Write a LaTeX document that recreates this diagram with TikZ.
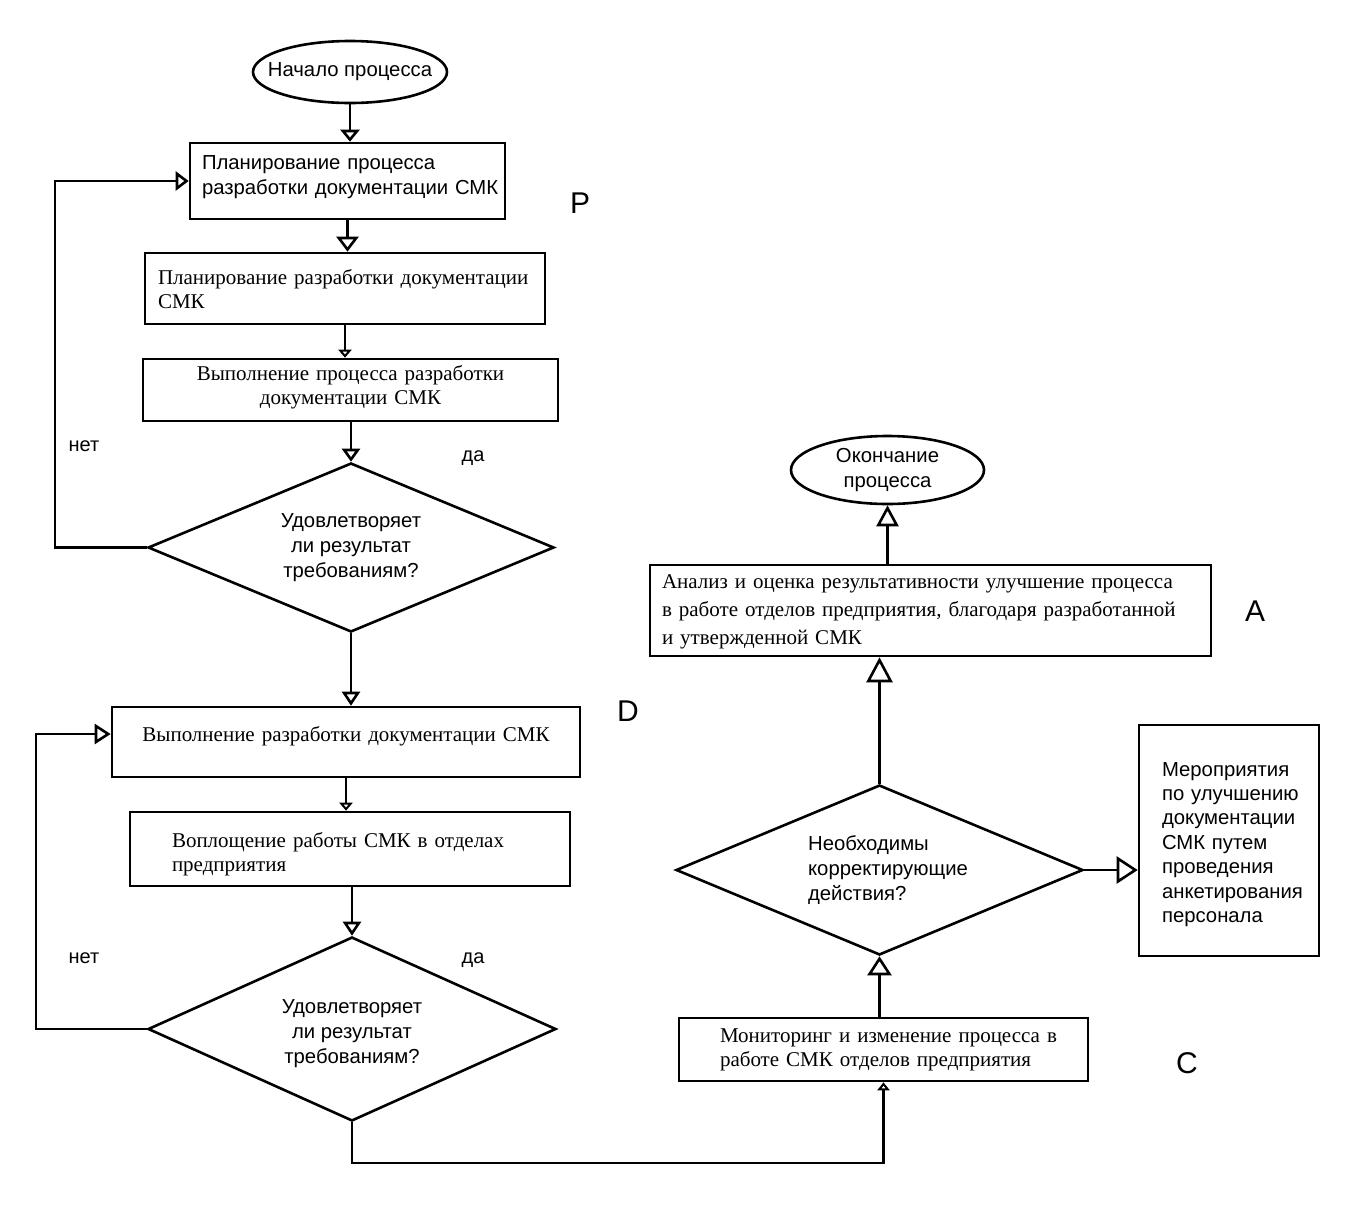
\documentclass[tikz,border=0pt]{standalone}
\usepackage{fontspec}
\setmainfont{Liberation Serif}
\setsansfont{Liberation Sans}
\usetikzlibrary{shapes.geometric,arrows.meta}
\newcommand\padtab[2]{\hspace*{#1}\begin{tabular}{@{}l@{}}#2\end{tabular}}
\begin{document}
\begin{tikzpicture}[x=1pt,y=-1pt,line width=2.6pt,
  box/.style={draw,rectangle,inner xsep=0pt,inner ysep=0pt,font=\rmfamily\fontsize{21}{24}\selectfont},
  sbox/.style={box,font=\sffamily\fontsize{20.3}{25}\selectfont},
  dia/.style={draw,diamond,inner sep=0pt,aspect=2.4,font=\sffamily\fontsize{20.3}{25}\selectfont},
  oval/.style={draw,ellipse,inner sep=0pt,font=\sffamily\fontsize{20.3}{25}\selectfont,align=center},
  lbl/.style={font=\sffamily\fontsize{20}{23}\selectfont,inner sep=0pt},
  big/.style={font=\sffamily\fontsize{30}{36}\selectfont,inner sep=0pt},
  tri/.style 2 args={-{Triangle[open,length=#1,width=#2]}},
]
\useasboundingbox (0,0) rectangle (1349,1219);

% nodes
\node[oval,minimum width=194pt,minimum height=62pt] (st) at (350,72) {\makebox[0pt]{Начало процесса}};
\node[sbox,text width=315pt,minimum height=76pt,align=left] (b1) at (347.5,181)
  {\raisebox{4pt}[\height][\depth]{\padtab{12pt}{Планирование процесса\\разработки документации СМК}}};
\node[box,text width=400pt,minimum height=71pt,align=left] (b2) at (345,288.5)
  {\raisebox{-3pt}[\height][\depth]{\padtab{13pt}{Планирование разработки документации\\СМК}}};
\node[box,text width=415pt,minimum height=62pt,align=center] (b3) at (350.5,390)
  {\raisebox{2pt}[\height][\depth]{\begin{tabular}{@{}c@{}}Выполнение процесса разработки\\документации СМК\end{tabular}}};
\node[dia,minimum width=406pt,minimum height=169pt,align=center] (d1) at (351,547.5)
  {Удовлетворяет\\ли результат\\требованиям?};
\node[box,text width=468pt,minimum height=70pt,align=center] (b4) at (346,742)
  {\raisebox{6pt}[\height][\depth]{Выполнение разработки документации СМК}};
\node[box,text width=440pt,minimum height=74pt,align=left] (b5) at (350,849)
  {\raisebox{-6pt}[\height][\depth]{\padtab{42pt}{Воплощение работы СМК в отделах\\предприятия}}};
\node[dia,minimum width=408pt,minimum height=184pt,align=center] (d2) at (352,1029)
  {\raisebox{-4pt}[\height][\depth]{\begin{tabular}{@{}c@{}}Удовлетворяет\\ли результат\\требованиям?\end{tabular}}};
\node[box,text width=409pt,minimum height=63pt,align=left] (mon) at (883.5,1049.5)
  {\padtab{41pt}{Мониторинг и изменение процесса в\\работе СМК отделов предприятия}};
\node[dia,minimum width=407pt,minimum height=170pt,align=left] (d3) at (879.5,870)
  {\hspace*{17pt}Необходимы\\\hspace*{17pt}корректирующие\\\hspace*{17pt}действия?};
\node[box,text width=561pt,minimum height=91pt,align=left,font=\rmfamily\fontsize{21}{28}\selectfont] (bA) at (930.5,610.5)
  {\padtab{12pt}{Анализ и оценка результативности улучшение процесса\\в работе отделов предприятия, благодаря разработанной\\и утвержденной СМК}};
\node[oval,minimum width=193pt,minimum height=68pt] (en) at (887.5,470) {Окончание\\процесса};
\node[box,text width=180pt,minimum height=231pt,align=left,font=\sffamily\fontsize{20.3}{24.4}\selectfont] (mer) at (1229,840.5)
  {\raisebox{-4pt}[\height][\depth]{\padtab{23pt}{Мероприятия\\по улучшению\\документации\\СМК путем\\проведения\\анкетирования\\персонала}}};

% labels
\node[lbl] (n1) at (84,446) {нет};
\node[lbl] (y1) at (473,458) {да};
\node[lbl] (n2) at (84,958) {нет};
\node[lbl] (y2) at (473,960) {да};
\node[big] (P) at (580,203) {P};
\node[big] (D) at (628,711) {D};
\node[big] (A) at (1255,611) {A};
\node[big] (C) at (1187,1063) {C};

% helper coordinates
\coordinate (l1) at (55,0);
\coordinate (l2) at (36,0);
\coordinate (bot) at (0,1163);

% connectors
\draw[tri={12pt}{19pt}] (st.south) -- (st.south |- b1.north);
\draw[tri={15pt}{22pt}] (b1.south) -- (b1.south |- b2.north);
\draw[tri={8pt}{13pt}] (b2.south) -- (b2.south |- b3.north);
\draw[tri={13pt}{18pt}] (d1.north |- b3.south) -- (d1.north);
\draw[tri={13pt}{19pt}] (d1.west) -- (d1.west -| l1) |- (b1.west);
\draw[tri={14pt}{18pt}] (d1.south) -- (d1.south |- b4.north);
\draw[tri={16pt}{20pt}] (d2.west) -- (d2.west -| l2) |- ([yshift=8pt]b4.west);
\draw[tri={8pt}{13pt}] (b4.south) -- (b4.south |- b5.north);
\draw[tri={14pt}{18pt}] (d2.north |- b5.south) -- (d2.north);
\draw[tri={8pt}{12pt}] (d2.south) -- (d2.south |- bot) -| (mon.south);
\draw[tri={19pt}{24pt}] (d3.south |- mon.north) -- (d3.south);
\draw[tri={25pt}{26pt}] (d3.north) -- (d3.north |- bA.south);
\draw[tri={21pt}{22pt}] (en.south |- bA.north) -- (en.south);
\draw[tri={21pt}{27pt}] (d3.east) -- (d3.east -| mer.west);
\end{tikzpicture}
\end{document}
